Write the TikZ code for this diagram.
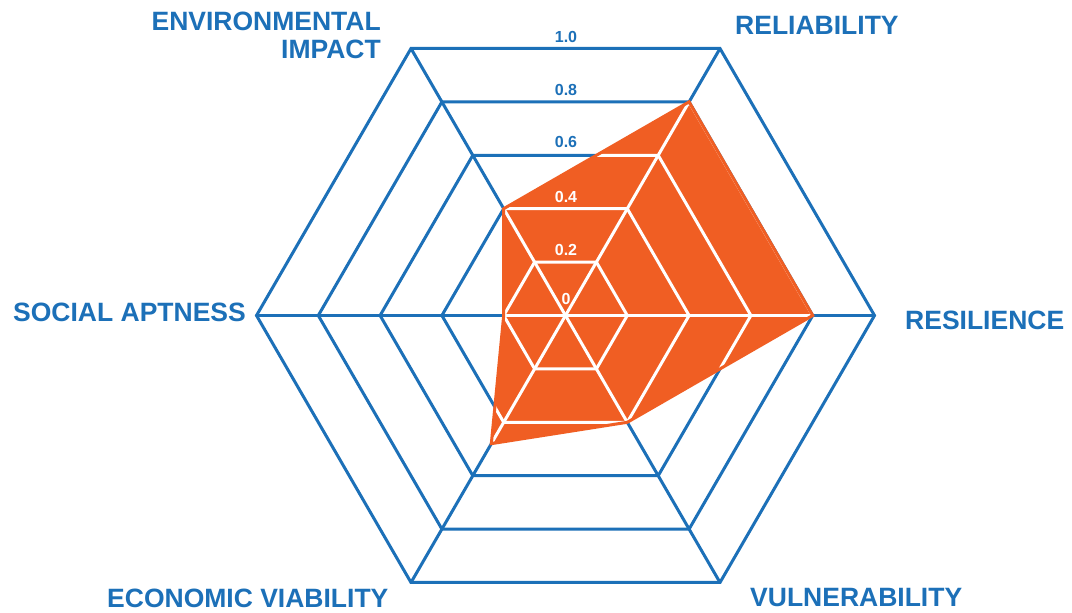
\documentclass[tikz,border=0pt]{standalone}
\usepackage{fontspec}
\setmainfont{Liberation Sans}
\definecolor{chartblue}{RGB}{28,112,184}
\definecolor{chartorange}{RGB}{240,94,35}
\tikzset{
  gridline/.style={draw=chartblue, line width=3pt, line join=miter},
  whiteline/.style={draw=white, line width=3pt, line join=miter},
  axislabel/.style={text=chartblue, font=\fontsize{26.5}{28}\selectfont\bfseries, inner sep=0pt},
  levellabel/.style={font=\fontsize{16}{18}\selectfont\bfseries, inner sep=0pt, anchor=base},
}
\begin{document}
\begin{tikzpicture}
\useasboundingbox (0pt,0pt) rectangle (1072pt,613pt);
\fill[white] (0pt,0pt) rectangle (1072pt,613pt);
\begin{scope}[shift={(565.5pt,297.5pt)}, x={(309pt,0pt)}, y={(0pt,267pt)}]
  \coordinate (C) at (0,0);
  % blue grid
  \foreach \f in {0.2,0.4,0.6,0.8,1.0}
    \draw[gridline] (\f,0) -- (\f/2,\f) -- (-\f/2,\f) -- (-\f,0) -- (-\f/2,-\f) -- (\f/2,-\f) -- cycle;
  \foreach \p in {(1,0),(0.5,1),(-0.5,1),(-1,0),(-0.5,-1),(0.5,-1)}
    \draw[gridline] (C) -- \p;
  % data polygon
  \coordinate (env) at (-0.2,0.4);
  \coordinate (rel) at (0.4,0.8);
  \coordinate (res) at (0.8,0);
  \coordinate (vul) at (0.2,-0.4);
  \coordinate (eco) at (-0.24,-0.48);
  \coordinate (soc) at (-0.2,0);
  \fill[chartorange] (env) -- (rel) -- (res) -- (vul) -- (eco) -- (soc) -- cycle;
  \begin{scope}
    \clip (env) -- (rel) -- (res) -- (vul) -- (eco) -- (soc) -- cycle;
    \foreach \f in {0.2,0.4,0.6,0.8,1.0}
      \draw[whiteline] (\f,0) -- (\f/2,\f) -- (-\f/2,\f) -- (-\f,0) -- (-\f/2,-\f) -- (\f/2,-\f) -- cycle;
    \foreach \p in {(1,0),(0.5,1),(-0.5,1),(-1,0),(-0.5,-1),(0.5,-1)}
      \draw[whiteline] (C) -- \p;
  \end{scope}
  \draw[chartorange, line width=3pt, line join=miter] (env) -- (rel) -- (res) -- (vul) -- (eco) -- (soc) -- cycle;
\end{scope}
% level labels
\node[levellabel, text=chartblue] (l10) at (566pt,570pt) {1.0};
\node[levellabel, text=chartblue] (l08) at (566pt,517pt) {0.8};
\node[levellabel, text=chartblue] (l06) at (566pt,465pt) {0.6};
\node[levellabel, text=white] (l04) at (566pt,410pt) {0.4};
\node[levellabel, text=white] (l02) at (566pt,357pt) {0.2};
\node[levellabel, text=white] (l00) at (566pt,308pt) {0};
% axis labels
\node[axislabel, anchor=base west] (reliab) at (735pt,578pt) {RELIABILITY};
\node[axislabel, anchor=base east] (envA) at (381pt,582pt) {ENVIRONMENTAL};
\node[axislabel, anchor=base east] (envB) at (381pt,554pt) {IMPACT};
\node[axislabel, anchor=base west] (social) at (13pt,291pt) {SOCIAL APTNESS};
\node[axislabel, anchor=base west] (resil) at (905pt,283pt) {RESILIENCE};
\node[axislabel, anchor=base west] (econ) at (107pt,5pt) {ECONOMIC VIABILITY};
\node[axislabel, anchor=base west] (vuln) at (750pt,6pt) {VULNERABILITY};
\end{tikzpicture}
\end{document}
